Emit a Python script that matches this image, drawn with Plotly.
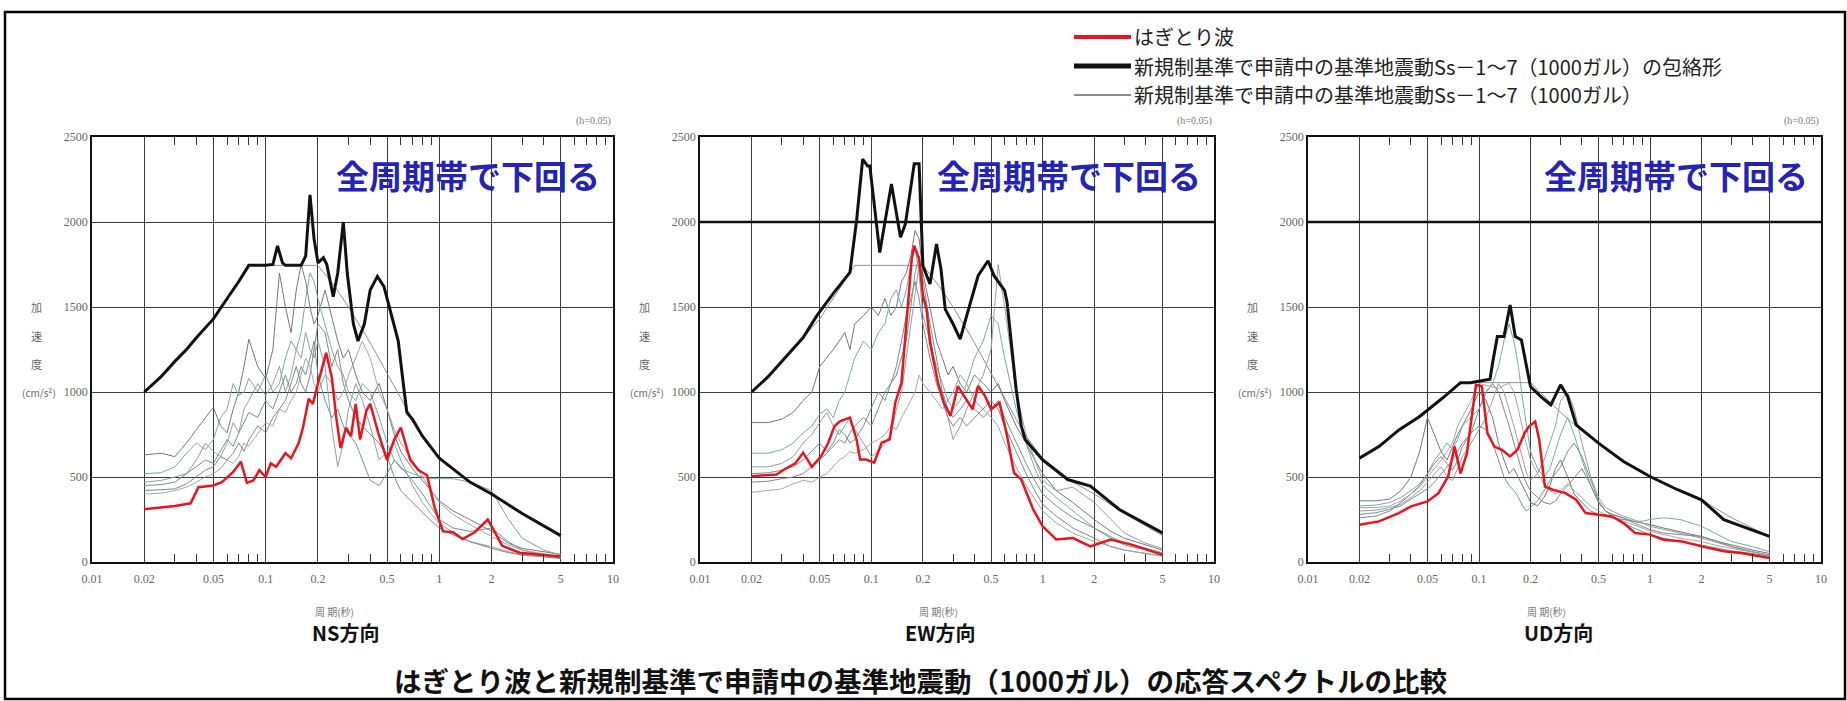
import plotly.graph_objects as go

W, H = 1847, 701

# ---------------- data ----------------
PERIOD_TICKS = [0.01, 0.02, 0.05, 0.1, 0.2, 0.5, 1, 2, 5, 10]
PERIOD_TICK_TEXT = ["0.01", "0.02", "0.05", "0.1", "0.2", "0.5", "1", "2", "5", "10"]
MINOR_TICKS = [0.03, 0.04, 0.06, 0.07, 0.08, 0.09, 0.3, 0.4, 0.6, 0.7, 0.8, 0.9, 3, 4, 6, 7, 8, 9]
ACC_TICKS = [0, 500, 1000, 1500, 2000, 2500]

PANEL_NAMES = ["NS方向", "EW方向", "UD方向"]
EMPHASIS_LEVEL = [None, 2000, 2000]

LEGEND_LABELS = [
    "はぎとり波",
    "新規制基準で申請中の基準地震動Ss－1～7（1000ガル）の包絡形",
    "新規制基準で申請中の基準地震動Ss－1～7（1000ガル）",
]
PANEL_NOTE = "全周期帯で下回る"
DAMPING_NOTE = "(h=0.05)"
X_TITLE = "周 期(秒)"
Y_TITLE_CHARS = ["加", "速", "度", "(cm/s²)"]
Y_TITLE_LEVELS = [1500, 1330, 1165, 1000]
MAIN_TITLE = "はぎとり波と新規制基準で申請中の基準地震動（1000ガル）の応答スペクトルの比較"

# shared period grid of the thin Ss lines
T_GRID = [0.02, 0.025, 0.03, 0.035, 0.04, 0.045, 0.05, 0.055, 0.06, 0.065, 0.07, 0.075, 0.08, 0.09,
          0.1, 0.11, 0.12, 0.13, 0.14, 0.15, 0.16, 0.17, 0.18, 0.19, 0.2, 0.22, 0.24, 0.26, 0.28, 0.3,
          0.33, 0.36, 0.4, 0.45, 0.5, 0.55, 0.6, 0.7, 0.8, 0.9, 1.0, 1.2, 1.5, 2.0, 2.5, 3.0, 4.0, 5.0]

# Ss-1 (design spectra)
SS1_H_T = [0.02, 0.03, 0.05, 0.08, 0.2, 0.25, 0.3, 0.4, 0.5, 0.6, 0.7, 0.8, 1.0, 1.5, 2.0, 3.0, 5.0]
SS1_H_A = [1000, 1180, 1430, 1745, 1745, 1620, 1500, 1290, 1110, 960, 840, 740, 610, 470, 400, 285, 155]
SS1_V_T = [0.02, 0.03, 0.05, 0.08, 0.2, 0.25, 0.3, 0.4, 0.5, 0.7, 1.0, 1.5, 2.0, 3.0, 5.0]
SS1_V_A = [611, 730, 900, 1055, 1055, 960, 880, 770, 699, 591, 503, 420, 366, 260, 151]

# ---- NS ----
NS_ENV_T = [0.02, 0.025, 0.03, 0.035, 0.04, 0.05, 0.06, 0.07, 0.08, 0.1, 0.11, 0.117, 0.125, 0.13, 0.16,
            0.17, 0.18, 0.19, 0.2, 0.215, 0.225, 0.245, 0.26, 0.28, 0.295, 0.32, 0.34, 0.37, 0.4, 0.44,
            0.48, 0.53, 0.58, 0.62, 0.65, 0.7, 0.8, 1.0, 1.5, 2.0, 3.0, 5.0]
NS_ENV_A = [1000, 1090, 1180, 1250, 1320, 1430, 1550, 1650, 1745, 1745, 1750, 1860, 1760, 1745, 1745,
            1800, 2160, 1900, 1760, 1790, 1750, 1560, 1700, 2000, 1700, 1400, 1300, 1400, 1600, 1680,
            1620, 1450, 1300, 1050, 880, 840, 740, 610, 470, 400, 285, 155]
NS_RED_T = [0.02, 0.025, 0.03, 0.037, 0.041, 0.05, 0.056, 0.065, 0.072, 0.078, 0.085, 0.092, 0.1, 0.107,
            0.115, 0.13, 0.14, 0.155, 0.164, 0.177, 0.187, 0.2, 0.212, 0.223, 0.24, 0.255, 0.27, 0.29,
            0.31, 0.33, 0.35, 0.38, 0.4, 0.445, 0.5, 0.55, 0.6, 0.68, 0.76, 0.85, 0.94, 1.05, 1.2, 1.36,
            1.6, 1.9, 2.05, 2.3, 2.9, 3.8, 5.0]
NS_RED_A = [310, 320, 330, 345, 440, 450, 470, 530, 590, 465, 480, 540, 500, 580, 560, 640, 610, 700, 790,
            960, 930, 1050, 1150, 1230, 1090, 850, 670, 790, 740, 930, 720, 890, 930, 760, 600, 720, 790,
            600, 540, 510, 320, 180, 175, 135, 175, 250, 190, 95, 55, 45, 33]
NS_SS2 = [630, 640, 620, 700, 780, 850, 910, 800, 760, 900, 1000, 1150, 1310, 1150, 1080, 1250, 1700, 1500,
          1350, 1600, 1750, 1650, 1500, 1400, 1450, 1600, 1450, 1300, 1200, 1250, 1100, 1000, 950, 1050,
          900, 750, 650, 550, 480, 420, 360, 300, 250, 180, 110, 80, 60, 45]
NS_SS3 = [520, 525, 560, 640, 700, 660, 720, 850, 900, 1050, 980, 1000, 1080, 1000, 1100, 1000, 1050, 1200,
          1300, 1250, 1350, 1550, 1700, 1650, 1550, 1400, 1250, 1150, 1100, 1000, 950, 1050, 1000, 850,
          700, 600, 550, 520, 500, 490, 490, 490, 470, 420, 250, 140, 70, 40]
NS_SS4 = [470, 480, 500, 520, 600, 700, 650, 620, 700, 820, 760, 900, 950, 1050, 980, 1050, 1150, 1000,
          1100, 1250, 1200, 1350, 1250, 1200, 1300, 1150, 800, 560, 700, 900, 1050, 950, 800, 600, 650,
          700, 600, 450, 350, 280, 230, 170, 120, 90, 60, 45, 35, 25]
NS_SS5 = [450, 455, 470, 520, 560, 600, 580, 650, 720, 680, 760, 820, 880, 850, 950, 900, 1000, 1100,
          1000, 1050, 1150, 1100, 1200, 1300, 1100, 950, 850, 900, 800, 750, 700, 600, 480, 450, 520, 600,
          560, 480, 400, 320, 250, 200, 180, 200, 120, 70, 40, 25]
NS_SS6 = [420, 425, 430, 460, 500, 540, 560, 620, 600, 640, 700, 650, 720, 800, 760, 850, 900, 950, 1050,
          1150, 1050, 1000, 1100, 1250, 1400, 1350, 1150, 1250, 1050, 950, 850, 800, 750, 700, 620, 500,
          420, 350, 290, 240, 200, 160, 120, 80, 55, 40, 30, 20]
NS_SS7 = [400, 405, 420, 440, 470, 500, 520, 550, 600, 580, 620, 700, 680, 750, 820, 800, 900, 880, 950,
          1000, 1100, 1200, 1150, 1050, 1000, 1100, 1050, 950, 1000, 1100, 1200, 1300, 1200, 1000, 900,
          780, 700, 600, 500, 420, 350, 280, 220, 150, 100, 70, 45, 30]

# ---- EW ----
EW_ENV_T = [0.02, 0.025, 0.03, 0.04, 0.048, 0.06, 0.075, 0.082, 0.089, 0.095, 0.098, 0.112, 0.131, 0.148,
            0.158, 0.178, 0.19, 0.2, 0.22, 0.24, 0.255, 0.27, 0.3, 0.33, 0.36, 0.42, 0.48, 0.52, 0.6, 0.62,
            0.7, 0.75, 0.79, 1.0, 1.4, 1.9, 2.8, 5.0]
EW_ENV_A = [1000, 1090, 1180, 1320, 1448, 1580, 1704, 2008, 2370, 2330, 2330, 1820, 2224, 1910, 1988,
            2342, 2342, 1743, 1635, 1870, 1723, 1487, 1400, 1311, 1448, 1684, 1772, 1684, 1596, 1527,
            1016, 800, 721, 600, 485, 446, 309, 171]
EW_RED_T = [0.02, 0.028, 0.031, 0.036, 0.04, 0.045, 0.051, 0.056, 0.061, 0.066, 0.075, 0.082, 0.086,
            0.093, 0.104, 0.115, 0.128, 0.138, 0.15, 0.158, 0.165, 0.172, 0.178, 0.19, 0.2, 0.21, 0.22,
            0.245, 0.265, 0.29, 0.32, 0.36, 0.39, 0.42, 0.46, 0.5, 0.56, 0.62, 0.68, 0.75, 0.88, 1.0, 1.2,
            1.5, 1.9, 2.5, 3.3, 5.0]
EW_RED_A = [505, 515, 544, 580, 643, 560, 623, 700, 800, 829, 849, 721, 603, 603, 584, 702, 721, 937,
            1055, 1350, 1550, 1782, 1861, 1782, 1566, 1487, 1291, 1055, 937, 859, 1035, 957, 898, 1035,
            977, 898, 937, 741, 525, 485, 309, 210, 132, 141, 92, 132, 102, 43]
EW_SS2 = [820, 820, 840, 880, 950, 1000, 1150, 1200, 1250, 1300, 1350, 1250, 1400, 1450, 1500, 1450, 1550,
          1450, 1500, 1650, 1700, 1800, 1950, 1900, 1700, 1500, 1300, 1200, 1100, 1150, 1050, 1000, 1100,
          1050, 1000, 1050, 950, 800, 700, 600, 520, 420, 350, 250, 180, 140, 100, 70]
EW_SS3 = [640, 640, 660, 700, 760, 800, 870, 900, 850, 950, 1000, 1100, 1200, 1300, 1250, 1350, 1400, 1550,
          1600, 1500, 1600, 1750, 1850, 1700, 1450, 1300, 1150, 1050, 950, 900, 950, 1050, 1200, 1300,
          1450, 1400, 1200, 900, 700, 550, 450, 380, 300, 200, 150, 110, 80, 55]
EW_SS4 = [560, 560, 580, 620, 700, 750, 820, 880, 800, 750, 800, 850, 780, 700, 620, 650, 700, 750, 900,
          1000, 1200, 1400, 1600, 1750, 1600, 1350, 1100, 950, 850, 720, 800, 900, 1000, 1100, 1250, 1750,
          1500, 1000, 750, 600, 480, 420, 440, 350, 250, 170, 110, 80]
EW_SS5 = [520, 525, 540, 560, 600, 650, 700, 650, 700, 780, 750, 700, 720, 800, 900, 1000, 950, 1050, 1100,
          1200, 1300, 1500, 1700, 1800, 1650, 1400, 1200, 1000, 900, 850, 900, 950, 900, 850, 900, 950, 850,
          700, 580, 480, 400, 330, 260, 200, 140, 100, 70, 50]
EW_SS6 = [470, 475, 490, 500, 520, 560, 600, 640, 680, 720, 700, 760, 800, 850, 800, 900, 1000, 1050, 1150,
          1300, 1450, 1550, 1650, 1550, 1400, 1200, 1050, 950, 850, 800, 850, 800, 850, 900, 950, 900, 800,
          650, 520, 420, 340, 270, 200, 140, 90, 70, 50, 35]
EW_SS7 = [410, 420, 430, 460, 480, 470, 500, 520, 560, 600, 620, 650, 640, 660, 700, 720, 750, 800, 780,
          850, 900, 950, 1000, 1100, 1050, 1000, 950, 900, 950, 1000, 1100, 1050, 950, 900, 850, 800, 700,
          560, 450, 370, 300, 230, 170, 120, 90, 70, 50, 35]

# ---- UD ----
UD_ENV_T = [0.02, 0.026, 0.034, 0.045, 0.061, 0.078, 0.089, 0.1, 0.116, 0.12, 0.128, 0.14, 0.152, 0.163,
            0.177, 0.2, 0.23, 0.263, 0.3, 0.33, 0.37, 0.5, 0.7, 1.0, 1.45, 2.0, 2.7, 5.0]
UD_ENV_A = [611, 679, 777, 856, 963, 1055, 1055, 1065, 1075, 1169, 1326, 1326, 1512, 1326, 1306, 1032,
            973, 924, 1042, 973, 807, 699, 591, 503, 425, 366, 249, 151]
UD_RED_T = [0.02, 0.026, 0.034, 0.04, 0.05, 0.058, 0.066, 0.072, 0.078, 0.085, 0.096, 0.104, 0.112, 0.123,
            0.136, 0.152, 0.168, 0.185, 0.196, 0.213, 0.225, 0.243, 0.27, 0.32, 0.37, 0.42, 0.5, 0.6, 0.7,
            0.82, 1.0, 1.2, 1.55, 2.0, 2.7, 3.4, 5.0]
UD_RED_A = [219, 239, 288, 327, 356, 405, 503, 679, 520, 640, 1042, 1032, 758, 679, 660, 621, 660, 760,
            797, 826, 719, 444, 425, 405, 366, 288, 278, 268, 229, 170, 161, 131, 121, 92, 63, 53, 24]
UD_SS2 = [360, 360, 370, 420, 500, 650, 850, 750, 650, 600, 680, 750, 800, 900, 1000, 950, 850, 700, 600,
          520, 550, 500, 450, 400, 350, 330, 380, 450, 550, 600, 500, 400, 350, 300, 280, 270, 260, 250,
          240, 230, 220, 200, 180, 150, 120, 100, 70, 50]
UD_SS3 = [330, 335, 350, 380, 420, 460, 520, 600, 650, 700, 660, 720, 800, 850, 900, 1000, 1050, 1150, 1300,
          1400, 1300, 1150, 950, 800, 650, 550, 500, 550, 650, 750, 850, 750, 600, 450, 350, 300, 280, 260,
          240, 240, 250, 260, 250, 210, 160, 120, 90, 60]
UD_SS4 = [300, 305, 320, 340, 380, 420, 470, 520, 560, 500, 480, 550, 620, 700, 780, 850, 950, 1050, 1000,
          900, 800, 700, 600, 520, 480, 520, 600, 700, 800, 950, 1000, 900, 700, 500, 380, 320, 300, 270,
          250, 230, 210, 190, 170, 140, 110, 90, 60, 40]
UD_SS5 = [280, 290, 310, 330, 370, 400, 430, 470, 520, 560, 600, 650, 700, 760, 800, 780, 700, 600, 500,
          450, 420, 380, 330, 300, 320, 360, 420, 480, 520, 560, 650, 700, 620, 480, 360, 300, 270, 230,
          200, 180, 160, 140, 120, 100, 80, 65, 50, 35]
UD_SS6 = [260, 270, 300, 350, 400, 450, 520, 580, 620, 580, 540, 600, 680, 760, 900, 1000, 1050, 1000, 900,
          800, 700, 600, 520, 460, 420, 380, 350, 340, 360, 400, 450, 500, 550, 450, 350, 300, 280, 260,
          230, 210, 190, 170, 160, 150, 120, 90, 60, 40]
UD_SS7 = [320, 320, 330, 360, 400, 440, 500, 550, 600, 650, 700, 800, 850, 950, 1050, 1040, 1030, 1020,
          1040, 1050, 1000, 900, 780, 680, 600, 520, 460, 420, 400, 420, 460, 420, 380, 330, 300, 280, 260,
          240, 220, 200, 180, 160, 140, 120, 95, 80, 55, 40]

PANELS = [
    dict(env=(NS_ENV_T, NS_ENV_A), red=(NS_RED_T, NS_RED_A), ss1=(SS1_H_T, SS1_H_A),
         thin=[NS_SS2, NS_SS3, NS_SS4, NS_SS5, NS_SS6, NS_SS7]),
    dict(env=(EW_ENV_T, EW_ENV_A), red=(EW_RED_T, EW_RED_A), ss1=(SS1_H_T, SS1_H_A),
         thin=[EW_SS2, EW_SS3, EW_SS4, EW_SS5, EW_SS6, EW_SS7]),
    dict(env=(UD_ENV_T, UD_ENV_A), red=(UD_RED_T, UD_RED_A), ss1=(SS1_V_T, SS1_V_A),
         thin=[UD_SS2, UD_SS3, UD_SS4, UD_SS5, UD_SS6, UD_SS7]),
]

# ---------------- styling / geometry ----------------
RED = "#e8141e"
BLACK = "#111111"
THIN_COLORS = ["#909090", "#777777", "#78a8a8", "#9c9c9c", "#6a9696", "#858585", "#a6a6a6"]
BLUE = "#2323b8"
GRID = "#3c3c3c"
CJK = "Noto Sans CJK JP"
SERIF = "Liberation Serif"

PANEL_LEFT = [92, 700, 1308]
PANEL_RIGHT = [613, 1214, 1821]
PLOT_TOP, PLOT_BOTTOM = 137, 562
PANEL_LABEL_X = [345, 940, 1558]


def px(x):
    return x / W


def py(y):
    return 1 - y / H


fig = go.Figure()

for i, p in enumerate(PANELS):
    n = "" if i == 0 else str(i + 1)
    xa, ya = "x" + n, "y" + n
    top_n = str(i + 4)
    # thin Ss-1 .. Ss-7
    fig.add_trace(go.Scatter(x=p["ss1"][0], y=p["ss1"][1], mode="lines", xaxis=xa, yaxis=ya,
                             line=dict(color=THIN_COLORS[0], width=1), showlegend=False, hoverinfo="skip"))
    for k, vals in enumerate(p["thin"]):
        fig.add_trace(go.Scatter(x=T_GRID, y=vals, mode="lines", xaxis=xa, yaxis=ya,
                                 line=dict(color=THIN_COLORS[k + 1], width=1), showlegend=False,
                                 hoverinfo="skip"))
    fig.add_trace(go.Scatter(x=p["env"][0], y=p["env"][1], mode="lines", xaxis=xa, yaxis=ya,
                             line=dict(color=BLACK, width=3), showlegend=False))
    fig.add_trace(go.Scatter(x=p["red"][0], y=p["red"][1], mode="lines", xaxis=xa, yaxis=ya,
                             line=dict(color=RED, width=2.5), showlegend=False))
    # empty trace that carries the top (mirrored) minor-tick axis
    fig.add_trace(go.Scatter(x=[], y=[], xaxis="x" + top_n, yaxis=ya, showlegend=False, hoverinfo="skip"))

    dom_x = [px(PANEL_LEFT[i]), px(PANEL_RIGHT[i])]
    dom_y = [py(PLOT_BOTTOM), py(PLOT_TOP)]
    minor = dict(tickmode="array", tickvals=MINOR_TICKS, ticks="inside", ticklen=8,
                 tickwidth=1.3, tickcolor="#333", showgrid=False)
    fig.layout["xaxis" + n] = dict(
        domain=dom_x, anchor=ya, type="log", range=[-2, 1],
        tickmode="array", tickvals=PERIOD_TICKS, ticktext=PERIOD_TICK_TEXT,
        ticks="", showgrid=True, gridcolor=GRID, gridwidth=1.3,
        showline=True, linecolor=BLACK, linewidth=1.6, mirror=True,
        tickfont=dict(family=SERIF, size=12, color="#666"), ticklabelstandoff=5,
        minor=minor, zeroline=False, fixedrange=True, automargin=False,
    )
    fig.layout["xaxis" + top_n] = dict(
        overlaying=xa, anchor=ya, side="top", type="log", range=[-2, 1],
        tickmode="array", tickvals=PERIOD_TICKS, ticks="", showticklabels=False,
        showgrid=False, showline=False, minor=minor, zeroline=False, fixedrange=True, automargin=False,
    )
    fig.layout["yaxis" + n] = dict(
        domain=dom_y, anchor=xa, range=[0, 2500],
        tickmode="array", tickvals=ACC_TICKS, ticks="",
        showgrid=True, gridcolor=GRID, gridwidth=1.3,
        showline=True, linecolor=BLACK, linewidth=1.6, mirror=True,
        tickfont=dict(family=SERIF, size=12, color="#666"),
        zeroline=False, fixedrange=True, automargin=False,
    )
    if EMPHASIS_LEVEL[i] is not None:
        fig.add_shape(type="line", xref=xa + " domain", yref=ya, x0=0, x1=1,
                      y0=EMPHASIS_LEVEL[i], y1=EMPHASIS_LEVEL[i], line=dict(color=BLACK, width=2.6))

    fig.add_annotation(xref=xa + " domain", yref=ya, x=0.978, y=2278, xanchor="right", yanchor="middle",
                       text="<b>" + PANEL_NOTE + "</b>", showarrow=False,
                       font=dict(family=CJK, size=33, color=BLUE))
    fig.add_annotation(xref=xa + " domain", yref="paper", x=1.0, y=py(121), xanchor="right",
                       yanchor="middle", text=DAMPING_NOTE, showarrow=False,
                       font=dict(family=SERIF, size=10, color="#777"))
    for ch, lv in zip(Y_TITLE_CHARS, Y_TITLE_LEVELS):
        last = ch == Y_TITLE_CHARS[-1]
        fig.add_annotation(xref="paper", yref=ya, x=px(PANEL_LEFT[i] - (34 if last else 56)), y=lv,
                           xanchor="right" if last else "center", yanchor="middle", text=ch,
                           showarrow=False, font=dict(family=CJK, size=11 if not last else 10, color="#666"))
    fig.add_annotation(xref="paper", yref="paper", x=px((PANEL_LEFT[i] + PANEL_RIGHT[i]) / 2 - 18),
                       y=py(611), xanchor="center", yanchor="middle", text=X_TITLE, showarrow=False,
                       font=dict(family=CJK, size=10, color="#777"))
    fig.add_annotation(xref="paper", yref="paper", x=px(PANEL_LABEL_X[i]), y=py(632), xanchor="center",
                       yanchor="middle", text="<b>" + PANEL_NAMES[i] + "</b>", showarrow=False,
                       font=dict(family=CJK, size=20, color="#111"))

# main title
fig.add_annotation(xref="paper", yref="paper", x=px(920), y=py(680), xanchor="center", yanchor="middle",
                   text="<b>" + MAIN_TITLE + "</b>", showarrow=False,
                   font=dict(family=CJK, size=27.5, color="#111"))

# legend (drawn manually to match the original layout)
LEG_ROWS = [37, 66, 95]
LEG_STYLES = [dict(color=RED, width=4), dict(color=BLACK, width=5), dict(color="#666", width=1.3)]
for label, row, st in zip(LEGEND_LABELS, LEG_ROWS, LEG_STYLES):
    fig.add_shape(type="line", xref="paper", yref="paper", x0=px(1074), x1=px(1131), y0=py(row),
                  y1=py(row), line=st)
    fig.add_annotation(xref="paper", yref="paper", x=px(1133), y=py(row), xanchor="left",
                       yanchor="middle", text=label, showarrow=False, borderpad=0,
                       font=dict(family=CJK, size=20, color="#222"))

# outer border
fig.add_shape(type="rect", xref="paper", yref="paper", x0=px(5), x1=px(1845), y0=py(699), y1=py(12),
              line=dict(color="black", width=2.5))

fig.update_layout(width=W, height=H, margin=dict(l=0, r=0, t=0, b=0, pad=0, autoexpand=False),
                  paper_bgcolor="white", plot_bgcolor="white", showlegend=False)

fig.write_html("out.html", config={"displayModeBar": False},
               post_script="document.body.style.margin='0px';document.body.style.overflow='hidden';")
